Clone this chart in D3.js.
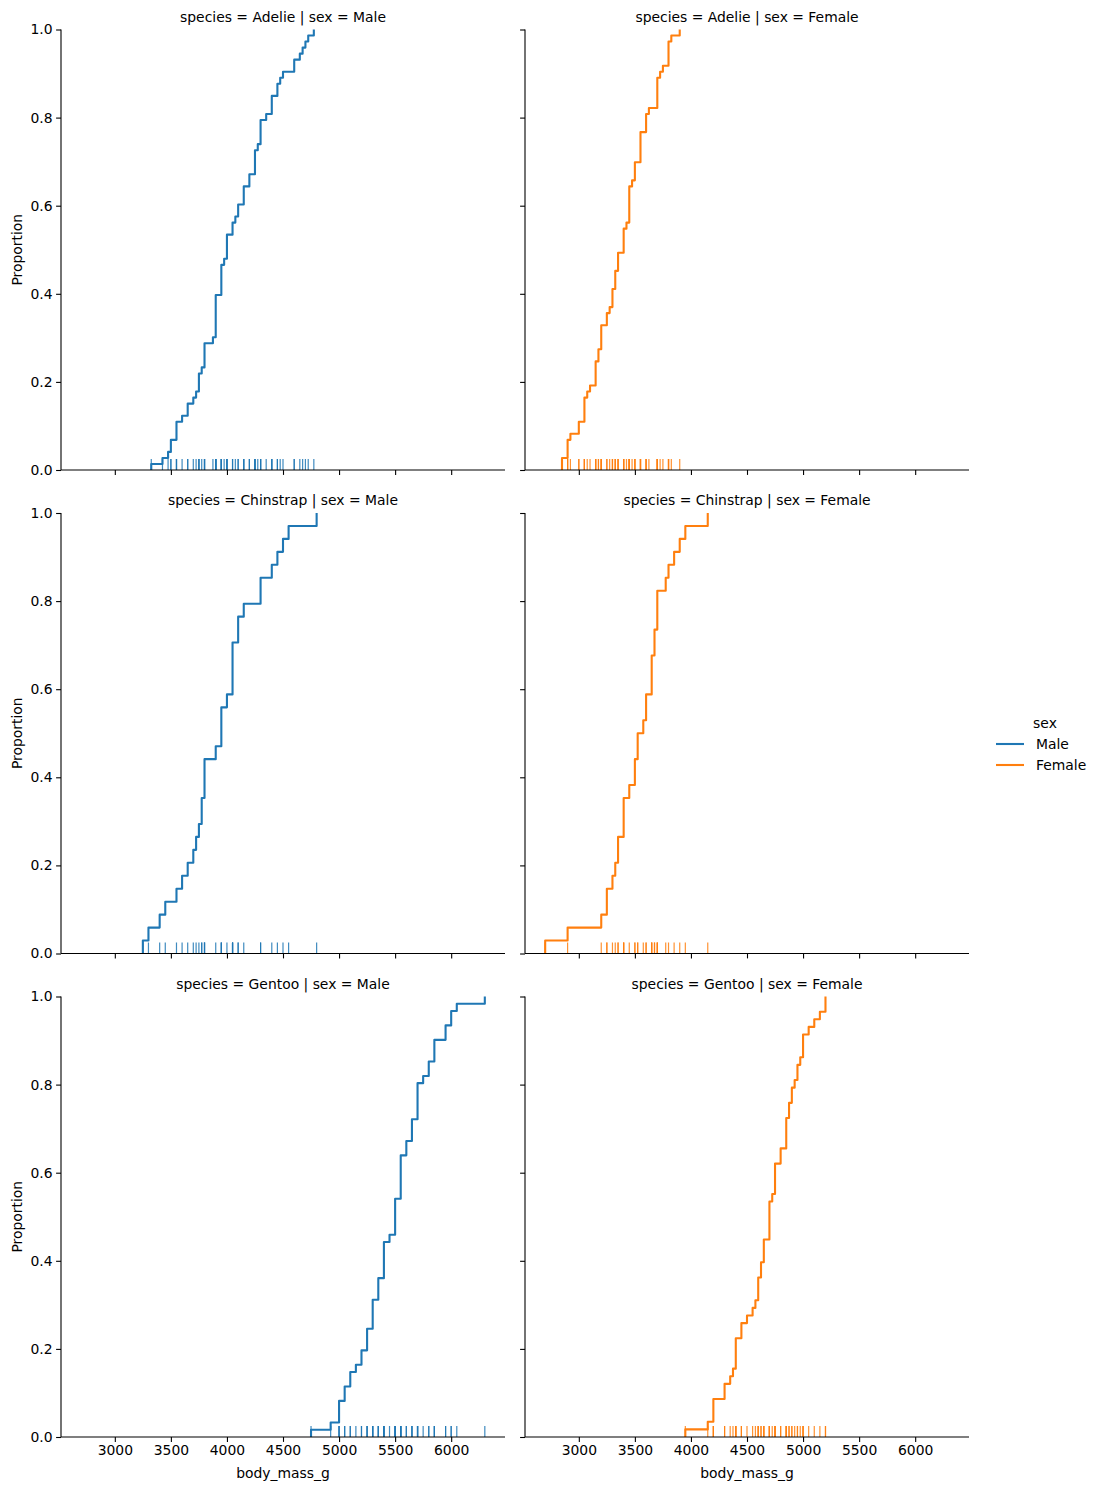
<!DOCTYPE html>
<html>
<head>
<meta charset="utf-8">
<script src="https://cdn.jsdelivr.net/npm/d3@7"></script>
<style>
  body { margin: 0; background: #fff; }
  svg { display: block; font-family: "DejaVu Sans", sans-serif; }
</style>
</head>
<body>
<div id="chart"></div>
<script>
// body_mass_g per facet (species x sex)
const adelieMale = [3750,3650,4675,3800,4400,4500,4200,3600,3950,3800,3550,3950,3900,3900,4150,3950,4650,3900,4400,4600,
  3425,4150,4300,4050,3700,3800,3750,4400,4050,3950,4100,4450,3900,4150,4250,3900,4000,4700,4200,3550,
  3800,3950,4300,4450,4300,4350,4100,4725,4250,3550,3900,4775,4600,4275,4075,3775,3325,3500,3875,4000,
  4300,4000,3500,4475,3900,3975,4250,3475,3725,3650,4250,3750,4000]
const adelieFemale = [3800,3250,3450,3625,3200,3700,3450,3325,3400,3800,3800,3200,3150,3250,3300,3325,3550,3300,3150,3100,
  3000,3450,3500,3450,2900,3550,2850,3150,3600,2850,3350,3050,3600,3550,3700,3700,3550,3200,3800,3350,
  3500,3600,3550,3400,3300,3700,2900,3725,3075,2925,3750,3175,3825,3200,3900,2900,3350,3150,3450,3050,
  3275,3050,3325,3500,3425,3175,3400,3400,3050,3000,3475,3450,3700]
const chinstrapMale = [3900,3650,3725,3750,3700,3775,4050,4050,3300,4400,3400,3800,4150,3800,4550,4300,4100,3600,4800,4500,
  3950,3550,4450,4300,3250,3950,4050,3450,4050,3800,3950,4000,3775,4100]
const chinstrapFemale = [3500,3525,3950,3250,4150,3800,3700,3575,3700,3450,3600,2900,3300,3400,3700,3200,3350,3900,3850,2700,
  3650,3500,3675,3400,3675,3325,3600,3350,3250,3525,3650,3650,3400,3775]
const gentooMale = [5700,5700,5400,5200,5150,5550,5850,5850,6300,5350,5700,5050,5100,5650,5550,5250,6050,5400,5250,5350,
  5700,4750,5550,5400,5300,5300,5000,5050,5000,5550,5300,5650,5700,5800,5550,5000,5100,5800,6000,5950,
  5450,5350,5600,5300,5550,5400,5650,5200,4925,5250,5600,5500,5500,5500,5500,5950,5500,5850,6000,5750,5400]
const gentooFemale = [4500,4450,4550,4800,4400,4650,4650,4200,4150,4800,5000,4400,5000,4600,4700,5050,5150,4950,4350,3950,
  4300,4900,4200,5100,4850,4400,4900,4300,4450,4200,4400,4700,4700,4750,5200,4700,4600,4750,4625,4725,
  4750,4600,4875,4950,4750,4850,4875,4625,4850,4975,4700,4575,5000,4650,4375,4925,4850,5200]

const species = ["Adelie", "Chinstrap", "Gentoo"]
const sexes = ["Male", "Female"]
const facetData = {
  Adelie: { Male: adelieMale, Female: adelieFemale },
  Chinstrap: { Male: chinstrapMale, Female: chinstrapFemale },
  Gentoo: { Male: gentooMale, Female: gentooFemale }
}
const xTicks = [3000, 3500, 4000, 4500, 5000, 5500, 6000]
const yTicks = [0, 0.2, 0.4, 0.6, 0.8, 1.0]

const width = 1098, height = 1490
const colors = { Male: "#1f77b4", Female: "#ff7f0e" }
const colLeft = [61, 525], panelW = 444
const rowTop = [29.5, 513, 996.5], panelH = 440.5

const svg = d3.select("#chart").append("svg")
  .attr("width", width).attr("height", height)

// shared x domain with matplotlib's 5% margins
const all = [].concat(...species.flatMap(s => sexes.map(x => facetData[s][x])))
const [mn, mx] = d3.extent(all)
const pad = (mx - mn) * 0.05

species.forEach((sp, r) => {
  sexes.forEach((sx, c) => {
    const x0 = colLeft[c], y0 = rowTop[r]
    const x = d3.scaleLinear().domain([mn - pad, mx + pad]).range([0, panelW])
    const y = d3.scaleLinear().domain([0, 1]).range([panelH, 0])
    const g = svg.append("g").attr("transform", `translate(${x0},${y0})`)

    const values = facetData[sp][sx].slice().sort(d3.ascending)
    const n = values.length
    const pts = [[values[0], 0]].concat(values.map((v, i) => [v, (i + 1) / n]))

    // rug
    g.append("g").selectAll("line")
      .data(values)
      .join("line")
      .attr("x1", d => x(d)).attr("x2", d => x(d))
      .attr("y1", panelH).attr("y2", panelH - panelH * 0.025)
      .attr("stroke", colors[sx])
      .attr("stroke-width", 1.2)
      .attr("stroke-opacity", 0.85)

    // ecdf
    g.append("path")
      .datum(pts)
      .attr("d", d3.line().x(d => x(d[0])).y(d => y(d[1])).curve(d3.curveStepAfter))
      .attr("fill", "none")
      .attr("stroke", colors[sx])
      .attr("stroke-width", 2.1)
      .attr("stroke-linejoin", "round")

    const xAxis = d3.axisBottom(x).tickValues(xTicks).tickSize(4.9).tickPadding(3.5)
      .tickFormat(r < species.length - 1 ? "" : d3.format("d"))
    const yAxis = d3.axisLeft(y).tickValues(yTicks).tickSize(4.9).tickPadding(3.5)
      .tickFormat(c === 0 ? d3.format(".1f") : "")

    const gx = g.append("g").attr("transform", `translate(0,${panelH})`).call(xAxis)
    const gy = g.append("g").call(yAxis)
    ;[gx, gy].forEach(a => {
      a.select(".domain").remove()
      a.selectAll(".tick line").attr("stroke", "#000").attr("stroke-width", 1.1)
      a.selectAll("text").attr("font-size", 13.9).attr("fill", "#000")
        .attr("font-family", "DejaVu Sans, sans-serif")
    })

    // spines (left and bottom only)
    g.append("line").attr("x1", 0).attr("x2", 0).attr("y1", 0).attr("y2", panelH)
      .attr("stroke", "#000").attr("stroke-width", 1.1)
    g.append("line").attr("x1", 0).attr("x2", panelW).attr("y1", panelH).attr("y2", panelH)
      .attr("stroke", "#000").attr("stroke-width", 1.1)

    g.append("text")
      .attr("x", panelW / 2).attr("y", -8)
      .attr("text-anchor", "middle")
      .attr("font-size", 13.9)
      .text(`species = ${sp} | sex = ${sx}`)

    if (c === 0) {
      g.append("text")
        .attr("transform", `translate(-39,${panelH / 2}) rotate(-90)`)
        .attr("text-anchor", "middle")
        .attr("font-size", 13.9)
        .text("Proportion")
    }
    if (r === species.length - 1) {
      g.append("text")
        .attr("x", panelW / 2).attr("y", panelH + 41)
        .attr("text-anchor", "middle")
        .attr("font-size", 13.9)
        .text("body_mass_g")
    }
  })
})

// legend
const legend = svg.append("g").attr("transform", "translate(996,0)")
legend.append("text").attr("x", 49).attr("y", 728)
  .attr("text-anchor", "middle").attr("font-size", 13.9).text("sex")
sexes.forEach((s, i) => {
  const ly = 744 + i * 21
  legend.append("line").attr("x1", 0).attr("x2", 28).attr("y1", ly).attr("y2", ly)
    .attr("stroke", colors[s]).attr("stroke-width", 2.1)
  legend.append("text").attr("x", 40).attr("y", ly + 5)
    .attr("font-size", 13.9).text(s)
})
</script>
</body>
</html>
